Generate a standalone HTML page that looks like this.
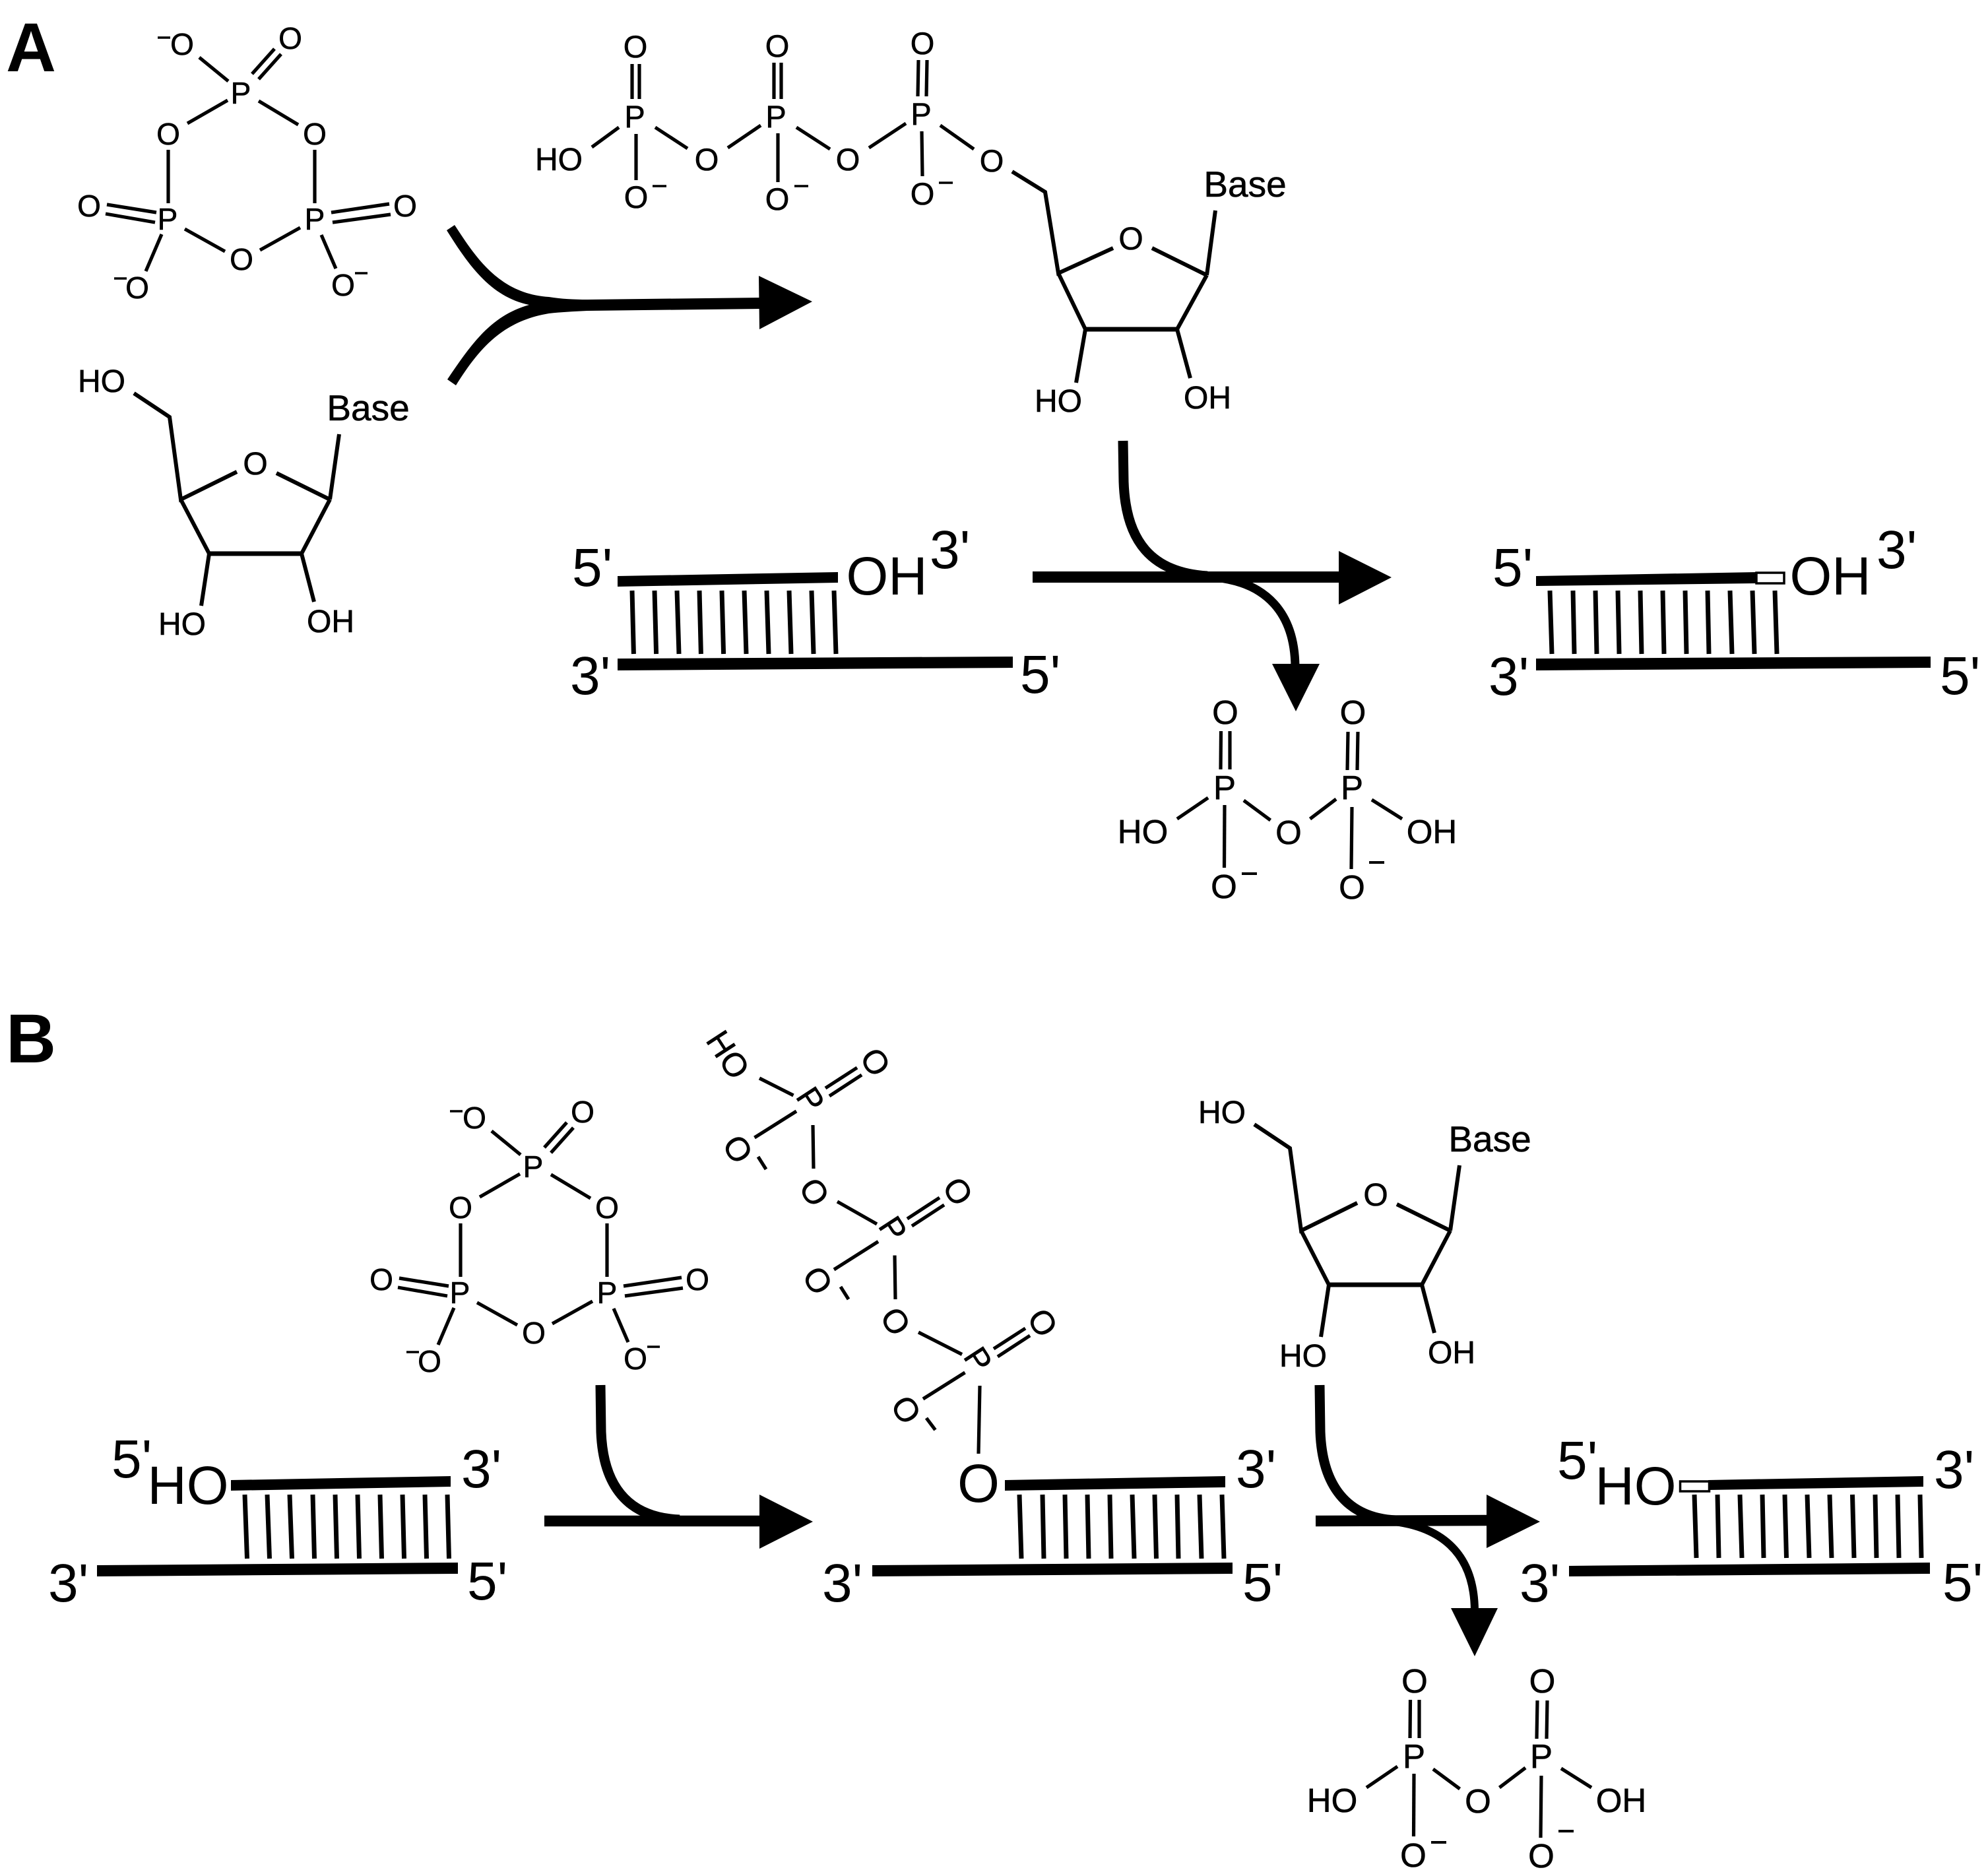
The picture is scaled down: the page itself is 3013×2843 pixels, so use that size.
<!DOCTYPE html>
<html><head><meta charset="utf-8"><title>Diagram</title>
<style>
html,body{margin:0;padding:0;background:#fff}
svg{display:block}
text{font-family:"Liberation Sans",Arial,sans-serif;fill:#000;text-anchor:middle}
.l{text-anchor:start}
.b line,.b path{stroke:#000;fill:none}
.b text{stroke:#000;stroke-width:.6}
line{stroke:#000}
.a{stroke:#000;fill:none}
</style></head><body>
<svg xmlns="http://www.w3.org/2000/svg" width="3013" height="2843" viewBox="0 0 3013 2843">
<rect width="3013" height="2843" fill="#fff"/>

<!-- Panel labels -->
<text x="47" y="108" font-size="105" font-weight="bold">A</text>
<text x="47" y="1610" font-size="105" font-weight="bold">B</text>

<!-- A: cyclic trimetaphosphate -->
<g class="b" stroke-width="5.200" font-size="46">
<line x1="302" y1="87" x2="346" y2="123"/>
<line x1="382" y1="112" x2="416" y2="74"/><line x1="392" y1="120" x2="426" y2="82"/>
<line x1="345" y1="152" x2="284" y2="187"/><line x1="392" y1="153" x2="452" y2="189"/>
<line x1="255" y1="227" x2="255" y2="308"/><line x1="477" y1="227" x2="477" y2="308"/>
<line x1="162" y1="310" x2="237" y2="322"/><line x1="160" y1="324" x2="235" y2="337"/>
<line x1="502" y1="322" x2="590" y2="309"/><line x1="504" y1="337" x2="592" y2="325"/>
<line x1="280" y1="347" x2="341" y2="381"/><line x1="394" y1="379" x2="455" y2="345"/>
<line x1="245" y1="355" x2="221" y2="411"/><line x1="487" y1="356" x2="509" y2="407"/>
<line x1="239" y1="57" x2="258" y2="57" stroke-width="3.500"/><line x1="173" y1="422" x2="192" y2="422" stroke-width="3.500"/><line x1="538" y1="414" x2="557" y2="414" stroke-width="3.500"/>
<text x="365" y="157">P</text><text x="255" y="219">O</text><text x="477" y="219">O</text>
<text x="254" y="348">P</text><text x="477" y="348">P</text><text x="366" y="409">O</text>
<text x="440" y="74">O</text><text x="276" y="83">O</text><text x="135" y="328">O</text>
<text x="614" y="328">O</text><text x="208" y="452">O</text><text x="520" y="448">O</text>
</g>

<!-- A: ribose left -->
<g class="b" stroke-width="6" font-size="48">
<path d="M203,596 L257,632 L274,757 L359,715"/>
<line x1="419" y1="717" x2="500" y2="757"/><line x1="500" y1="757" x2="514" y2="658"/>
<line x1="274" y1="757" x2="317" y2="839"/><line x1="317" y1="839" x2="457" y2="839" stroke-width="7"/>
<line x1="457" y1="839" x2="500" y2="757"/><line x1="317" y1="839" x2="305" y2="918"/><line x1="457" y1="839" x2="476" y2="912"/>
<text x="154" y="594">HO</text><text x="387" y="719">O</text><text x="558" y="637" font-size="55">Base</text>
<text x="276" y="962">HO</text><text x="501" y="958">OH</text>
</g>

<!-- A: fork arrow -->
<path fill="#000" d="M689,341 C720,388 755,445 832,450 C850,453 870,454 890,454 L1155,451 L1155,468 L890,471 C870,472 850,473 832,475 C760,487 725,530 691,584 L678,575 C715,520 745,478 802,462 C745,450 712,405 677,349 Z"/>
<polygon points="1150,418 1231,457 1151,499"/>

<!-- A: NTP -->
<g class="b" stroke-width="5.200" font-size="47">
<line x1="958" y1="97" x2="958" y2="150"/><line x1="969" y1="97" x2="969" y2="150"/>
<line x1="938" y1="193" x2="897" y2="223"/><line x1="993" y1="193" x2="1042" y2="225"/><line x1="964" y1="203" x2="964" y2="273"/>
<line x1="1103" y1="224" x2="1153" y2="190"/>
<line x1="1173" y1="95" x2="1173" y2="150"/><line x1="1184" y1="95" x2="1184" y2="150"/>
<line x1="1207" y1="193" x2="1258" y2="226"/><line x1="1179" y1="202" x2="1179" y2="276"/>
<line x1="1317" y1="224" x2="1373" y2="187"/>
<line x1="1392" y1="91" x2="1391" y2="146"/><line x1="1405" y1="91" x2="1404" y2="146"/>
<line x1="1425" y1="190" x2="1476" y2="226"/><line x1="1397" y1="199" x2="1398" y2="267"/>
<path stroke-width="6" d="M1534,260 L1584,291 L1604,414 L1687,376"/>
<line stroke-width="6" x1="1746" y1="376" x2="1829" y2="417"/><line stroke-width="6" x1="1829" y1="417" x2="1842" y2="319"/>
<line stroke-width="6" x1="1604" y1="414" x2="1645" y2="499"/><line stroke-width="7" x1="1645" y1="499" x2="1784" y2="499"/>
<line stroke-width="6" x1="1784" y1="499" x2="1829" y2="417"/><line stroke-width="6" x1="1645" y1="499" x2="1631" y2="580"/><line stroke-width="6" x1="1784" y1="499" x2="1804" y2="573"/>
<line x1="989" y1="282" x2="1010" y2="282" stroke-width="3.500"/><line x1="1204" y1="282" x2="1225" y2="282" stroke-width="3.500"/><line x1="1423" y1="277" x2="1444" y2="277" stroke-width="3.500"/>
<text x="963" y="87">O</text><text x="962" y="193">P</text><text x="847" y="258" font-size="48">HO</text><text x="1071" y="258">O</text><text x="964" y="315">O</text>
<text x="1178" y="86">O</text><text x="1176" y="193">P</text><text x="1285" y="258">O</text><text x="1178" y="318">O</text>
<text x="1398" y="82">O</text><text x="1396" y="189">P</text><text x="1503" y="260">O</text><text x="1398" y="310">O</text>
<text x="1887" y="298" font-size="55">Base</text><text x="1714" y="378" font-size="48">O</text>
<text x="1604" y="624" font-size="48">HO</text><text x="1830" y="619" font-size="48">OH</text>
</g>

<!-- A: duplex 1 -->
<polygon points="936,873 1270,867 1270,883 936,889"/>
<polygon points="936,998 1535,995 1535,1012 936,1016"/>
<g stroke-width="7">
<line x1="958" y1="895" x2="960.400" y2="991"/><line x1="992" y1="895" x2="994.600" y2="991"/><line x1="1026" y1="895" x2="1029" y2="991"/><line x1="1060" y1="895" x2="1062.400" y2="991"/><line x1="1094" y1="895" x2="1096.600" y2="991"/><line x1="1128" y1="895" x2="1131" y2="991"/><line x1="1162" y1="895" x2="1165" y2="991"/><line x1="1196" y1="895" x2="1199" y2="991"/><line x1="1230" y1="895" x2="1233" y2="991"/><line x1="1264" y1="895" x2="1267" y2="991"/>
</g>
<g font-size="82">
<text class="l" x="867" y="888">5'</text><text class="l" x="1409" y="861">3'</text><text x="1344" y="901">OH</text>
<text class="l" x="864" y="1052">3'</text><text class="l" x="1546" y="1050">5'</text>
</g>

<!-- A: central arrow -->
<path class="a" stroke-width="17" d="M1565,874.500 L2035,874.500"/>
<polygon points="2029,835 2109,875 2029,916"/>
<path class="a" stroke-width="15" d="M1702,668 L1703,730 C1706,820 1745,868 1830,873"/>
<path class="a" stroke-width="13" d="M1840,875 C1920,882 1962,930 1963,1010"/>
<polygon points="1928,1006 2000,1006 1964,1078"/>

<!-- A: duplex 2 -->
<polygon points="2328,873 2663,867 2663,884 2328,888"/>
<rect x="2662" y="868" width="42" height="16" fill="#fff" stroke="#000" stroke-width="3.500"/>
<polygon points="2328,998 2926,995 2926,1012 2328,1016"/>
<g stroke-width="7">
<line x1="2349" y1="895" x2="2352" y2="991"/><line x1="2384" y1="895" x2="2386" y2="991"/><line x1="2418" y1="895" x2="2420" y2="991"/><line x1="2452" y1="895" x2="2454" y2="991"/><line x1="2486" y1="895" x2="2488" y2="991"/><line x1="2520" y1="895" x2="2522" y2="991"/><line x1="2554" y1="895" x2="2556" y2="991"/><line x1="2588" y1="895" x2="2590" y2="991"/><line x1="2622" y1="895" x2="2625" y2="991"/><line x1="2656" y1="895" x2="2659" y2="991"/><line x1="2690" y1="895" x2="2693" y2="991"/>
</g>
<g font-size="82">
<text class="l" x="2262" y="888">5'</text><text class="l" x="2844" y="861">3'</text><text x="2774" y="901">OH</text>
<text class="l" x="2256" y="1053">3'</text><text class="l" x="2940" y="1052">5'</text>
</g>

<!-- A: pyrophosphate -->
<g class="b" transform="translate(-287 -1468)" stroke-width="5.200" font-size="51">
<line x1="2137.500" y1="2576" x2="2137" y2="2634"/><line x1="2151" y1="2576" x2="2151" y2="2634"/>
<line x1="2118" y1="2677" x2="2071" y2="2709"/><line x1="2172" y1="2681" x2="2212.500" y2="2711"/><line x1="2143" y1="2688" x2="2142.500" y2="2783"/>
<line x1="2272.500" y1="2709" x2="2312" y2="2679"/><line x1="2366" y1="2680" x2="2412" y2="2709"/><line x1="2336" y1="2691" x2="2335" y2="2785"/>
<line x1="2330" y1="2577" x2="2329" y2="2635"/><line x1="2345" y1="2577" x2="2344" y2="2635"/>
<line x1="2169" y1="2792" x2="2192" y2="2792" stroke-width="4"/><line x1="2362" y1="2775" x2="2385" y2="2775" stroke-width="4"/>
<text x="2144" y="2565">O</text><text x="2143" y="2679">P</text><text x="2019" y="2746">HO</text><text x="2240" y="2747">O</text><text x="2142" y="2829">O</text>
<text x="2337.500" y="2565">O</text><text x="2336" y="2679">P</text><text x="2457" y="2746">OH</text><text x="2336" y="2830">O</text>
</g>

<!-- B: cyclic trimetaphosphate -->
<g class="b" transform="translate(443 1627)" stroke-width="5.200" font-size="46">
<line x1="302" y1="87" x2="346" y2="123"/>
<line x1="382" y1="112" x2="416" y2="74"/><line x1="392" y1="120" x2="426" y2="82"/>
<line x1="345" y1="152" x2="284" y2="187"/><line x1="392" y1="153" x2="452" y2="189"/>
<line x1="255" y1="227" x2="255" y2="308"/><line x1="477" y1="227" x2="477" y2="308"/>
<line x1="162" y1="310" x2="237" y2="322"/><line x1="160" y1="324" x2="235" y2="337"/>
<line x1="502" y1="322" x2="590" y2="309"/><line x1="504" y1="337" x2="592" y2="325"/>
<line x1="280" y1="347" x2="341" y2="381"/><line x1="394" y1="379" x2="455" y2="345"/>
<line x1="245" y1="355" x2="221" y2="411"/><line x1="487" y1="356" x2="509" y2="407"/>
<line x1="239" y1="57" x2="258" y2="57" stroke-width="3.500"/><line x1="173" y1="422" x2="192" y2="422" stroke-width="3.500"/><line x1="538" y1="414" x2="557" y2="414" stroke-width="3.500"/>
<text x="365" y="157">P</text><text x="255" y="219">O</text><text x="477" y="219">O</text>
<text x="254" y="348">P</text><text x="477" y="348">P</text><text x="366" y="409">O</text>
<text x="440" y="74">O</text><text x="276" y="83">O</text><text x="135" y="328">O</text>
<text x="614" y="328">O</text><text x="208" y="452">O</text><text x="520" y="448">O</text>
</g>

<!-- B: rotated triphosphate -->
<g class="b" stroke-width="5.200" font-size="50">
<line x1="1151" y1="1634" x2="1202.500" y2="1660"/>
<line x1="1251" y1="1649" x2="1299" y2="1618"/><line x1="1257" y1="1661" x2="1306" y2="1629"/>
<line x1="1143.500" y1="1724" x2="1207" y2="1684"/><line x1="1232" y1="1705" x2="1233" y2="1771"/>
<line x1="1149" y1="1753" x2="1161" y2="1772"/>
<line x1="1269" y1="1821" x2="1329" y2="1855"/>
<line x1="1375" y1="1847" x2="1424" y2="1815"/><line x1="1382" y1="1858" x2="1431" y2="1826"/>
<line x1="1264" y1="1924" x2="1331" y2="1881.500"/><line x1="1356" y1="1902.500" x2="1357" y2="1969"/>
<line x1="1274" y1="1950" x2="1286" y2="1969"/>
<line x1="1392" y1="2019" x2="1458" y2="2052.500"/>
<line x1="1506" y1="2044" x2="1554" y2="2013"/><line x1="1512" y1="2056" x2="1561" y2="2024"/>
<line x1="1399" y1="2120" x2="1462.500" y2="2080"/><line x1="1485" y1="2100" x2="1483" y2="2203"/>
<line x1="1404" y1="2149" x2="1417.500" y2="2167"/>
<text transform="translate(1104 1598) rotate(57)" y="18">HO</text>
<text transform="translate(1327.500 1609) rotate(57)" y="18">O</text>
<text transform="translate(1229 1666) rotate(57)" y="18">P</text>
<text transform="translate(1119 1741) rotate(57)" y="18">O</text>
<text transform="translate(1235 1806) rotate(57)" y="18">O</text>
<text transform="translate(1452.500 1805) rotate(57)" y="18">O</text>
<text transform="translate(1354 1862) rotate(57)" y="18">P</text>
<text transform="translate(1240 1940) rotate(57)" y="18">O</text>
<text transform="translate(1358 2002) rotate(57)" y="18">O</text>
<text transform="translate(1581 2004) rotate(57)" y="18">O</text>
<text transform="translate(1483 2060) rotate(57)" y="18">P</text>
<text transform="translate(1374 2136) rotate(57)" y="18">O</text>
</g>

<!-- B: ribose -->
<g class="b" transform="translate(1698 1108)" stroke-width="6" font-size="48">
<g transform="translate(3 2)">
<path d="M200,594 L254,630 L271,755 L356,713"/>
<line x1="416" y1="715" x2="497" y2="755"/><line x1="497" y1="755" x2="511" y2="656"/>
<line x1="271" y1="755" x2="313" y2="837"/><line x1="313" y1="837" x2="454" y2="837" stroke-width="7"/>
<line x1="454" y1="837" x2="497" y2="755"/><line x1="313" y1="837" x2="301" y2="916"/><line x1="454" y1="837" x2="473" y2="910"/>
</g>
<text x="154" y="594">HO</text><text x="387" y="719">O</text><text x="560" y="637" font-size="55">Base</text>
<text x="277" y="963">HO</text><text x="502" y="958">OH</text>
</g>

<!-- B: duplex 1 -->
<polygon points="350,2243 683,2237 683,2253 350,2259"/>
<polygon points="147,2372 694,2368 694,2385 147,2389"/>
<g stroke-width="7">
<line x1="371" y1="2265" x2="374.500" y2="2362"/><line x1="405" y1="2265" x2="408.500" y2="2362"/><line x1="439" y1="2265" x2="442.500" y2="2362"/><line x1="474" y1="2265" x2="476.500" y2="2362"/><line x1="508" y1="2265" x2="510.500" y2="2362"/><line x1="542" y1="2265" x2="544.500" y2="2362"/><line x1="576" y1="2265" x2="578.500" y2="2362"/><line x1="610" y1="2265" x2="612.500" y2="2362"/><line x1="644" y1="2265" x2="646.500" y2="2362"/><line x1="678" y1="2265" x2="680.500" y2="2362"/>
</g>
<g font-size="82">
<text class="l" x="169" y="2239">5'</text><text x="285" y="2279">HO</text><text class="l" x="699" y="2254">3'</text>
<text class="l" x="73" y="2427">3'</text><text class="l" x="708" y="2424">5'</text>
</g>

<!-- B: arrow 1 -->
<path class="a" stroke-width="16.500" d="M825,2305 L1155,2305"/>
<polygon points="1151,2265 1232,2306 1151,2347"/>
<path class="a" stroke-width="15" d="M910,2099 L911,2170 C914,2250 950,2300 1030,2303"/>

<!-- B: duplex 2 -->
<polygon points="1523,2243 1857,2237 1857,2254 1523,2259"/>
<polygon points="1322,2372 1868,2368 1868,2385 1322,2389"/>
<g stroke-width="7">
<line x1="1545" y1="2265" x2="1548" y2="2362"/><line x1="1580" y1="2265" x2="1582" y2="2362"/><line x1="1614" y1="2265" x2="1616" y2="2362"/><line x1="1648" y1="2265" x2="1650" y2="2362"/><line x1="1682" y1="2265" x2="1684" y2="2362"/><line x1="1716" y1="2265" x2="1719" y2="2362"/><line x1="1750" y1="2265" x2="1752.500" y2="2362"/><line x1="1784" y1="2265" x2="1786" y2="2362"/><line x1="1818" y1="2265" x2="1821" y2="2362"/><line x1="1852" y1="2265" x2="1855" y2="2362"/>
</g>
<g font-size="82">
<text x="1483" y="2276">O</text><text class="l" x="1873" y="2254">3'</text>
<text class="l" x="1246" y="2427">3'</text><text class="l" x="1883" y="2426">5'</text>
</g>

<!-- B: arrow 2 -->
<path class="a" stroke-width="16.500" d="M1994,2305 L2258,2304"/>
<polygon points="2253,2265 2334,2306 2253,2346"/>
<path class="a" stroke-width="15" d="M2000,2099 L2001,2170 C2004,2250 2040,2300 2115,2304"/>
<path class="a" stroke-width="12" d="M2105,2305 C2180,2312 2234,2350 2235,2440"/>
<polygon points="2199,2437 2270,2437 2235,2510"/>

<!-- B: duplex 3 -->
<polygon points="2589,2243 2915,2237 2915,2253 2589,2258"/>
<rect x="2546.500" y="2245" width="44" height="15" fill="#fff" stroke="#000" stroke-width="3.500"/>
<polygon points="2378,2373 2925,2368 2925,2385 2378,2389"/>
<g stroke-width="7">
<line x1="2568" y1="2265" x2="2571" y2="2361"/><line x1="2603" y1="2265" x2="2605" y2="2361"/><line x1="2637" y1="2265" x2="2640" y2="2361"/><line x1="2671" y1="2265" x2="2673" y2="2361"/><line x1="2705" y1="2265" x2="2707.500" y2="2361"/><line x1="2739" y1="2265" x2="2742" y2="2361"/><line x1="2773" y1="2265" x2="2776" y2="2361"/><line x1="2807.500" y1="2265" x2="2810" y2="2361"/><line x1="2842" y1="2265" x2="2844" y2="2361"/><line x1="2876" y1="2265" x2="2878" y2="2361"/><line x1="2910" y1="2265" x2="2912" y2="2361"/>
</g>
<g font-size="82">
<text class="l" x="2360" y="2241">5'</text><text x="2479" y="2280">HO</text><text class="l" x="2931" y="2255">3'</text>
<text class="l" x="2303" y="2427">3'</text><text class="l" x="2944" y="2426">5'</text>
</g>

<!-- B: pyrophosphate -->
<g class="b" stroke-width="5.200" font-size="51">
<line x1="2137.500" y1="2576" x2="2137" y2="2634"/><line x1="2151" y1="2576" x2="2151" y2="2634"/>
<line x1="2118" y1="2677" x2="2071" y2="2709"/><line x1="2172" y1="2681" x2="2212.500" y2="2711"/><line x1="2143" y1="2688" x2="2142.500" y2="2783"/>
<line x1="2272.500" y1="2709" x2="2312" y2="2679"/><line x1="2366" y1="2680" x2="2412" y2="2709"/><line x1="2336" y1="2691" x2="2335" y2="2785"/>
<line x1="2330" y1="2577" x2="2329" y2="2635"/><line x1="2345" y1="2577" x2="2344" y2="2635"/>
<line x1="2169" y1="2792" x2="2192" y2="2792" stroke-width="4"/><line x1="2362" y1="2775" x2="2385" y2="2775" stroke-width="4"/>
<text x="2144" y="2565">O</text><text x="2143" y="2679">P</text><text x="2019" y="2746">HO</text><text x="2240" y="2747">O</text><text x="2142" y="2829">O</text>
<text x="2337.500" y="2565">O</text><text x="2336" y="2679">P</text><text x="2457" y="2746">OH</text><text x="2336" y="2830">O</text>
</g>
</svg>
</body></html>
